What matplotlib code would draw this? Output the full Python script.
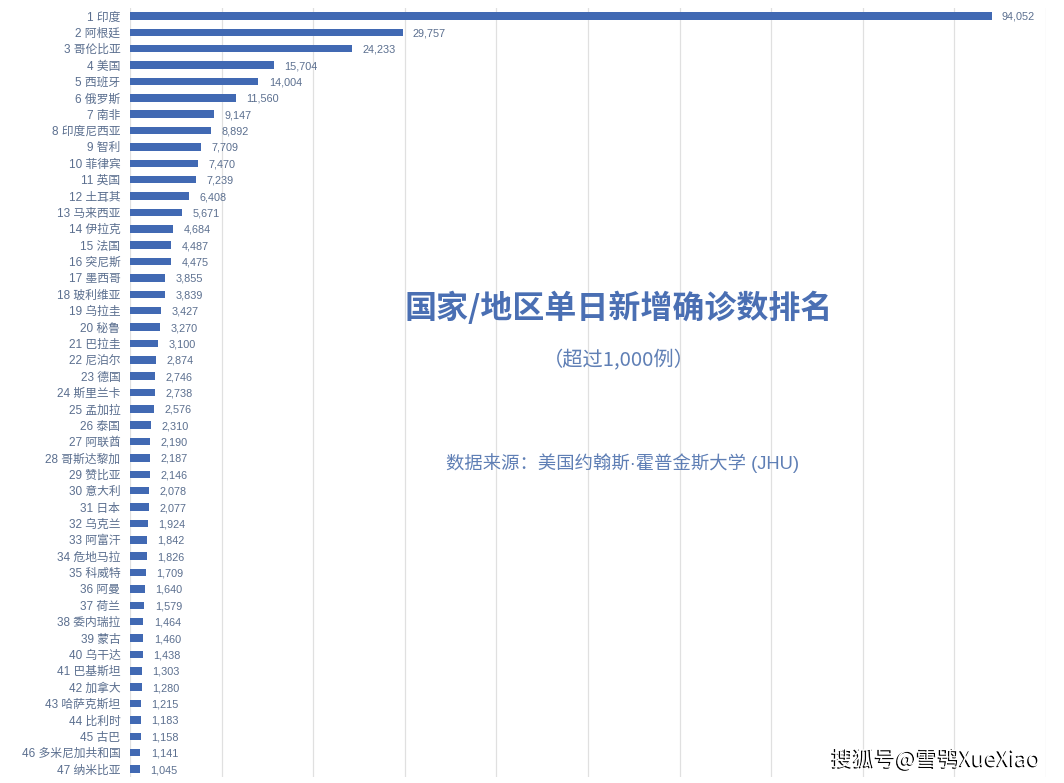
import matplotlib
matplotlib.use("Agg")
import matplotlib.pyplot as plt
import matplotlib.patheffects as pe
from matplotlib.ticker import MultipleLocator

plt.rcParams['font.family'] = ['Noto Sans CJK SC', 'DejaVu Sans']

countries = ["印度","阿根廷","哥伦比亚","美国","西班牙","俄罗斯","南非","印度尼西亚","智利","菲律宾",
             "英国","土耳其","马来西亚","伊拉克","法国","突尼斯","墨西哥","玻利维亚","乌拉圭","秘鲁",
             "巴拉圭","尼泊尔","德国","斯里兰卡","孟加拉","泰国","阿联酋","哥斯达黎加","赞比亚","意大利",
             "日本","乌克兰","阿富汗","危地马拉","科威特","阿曼","荷兰","委内瑞拉","蒙古","乌干达",
             "巴基斯坦","加拿大","哈萨克斯坦","比利时","古巴","多米尼加共和国","纳米比亚"]
values = [94052,29757,24233,15704,14004,11560,9147,8892,7709,7470,
          7239,6408,5671,4684,4487,4475,3855,3839,3427,3270,
          3100,2874,2746,2738,2576,2310,2190,2187,2146,2078,
          2077,1924,1842,1826,1709,1640,1579,1464,1460,1438,
          1303,1280,1215,1183,1158,1141,1045]
ranks = list(range(1, len(countries) + 1))
labels = [f"{r} {c}" for r, c in zip(ranks, countries)]

W, H = 1064, 783
fig = plt.figure(figsize=(W/100, H/100), dpi=100, facecolor="white")
ax = fig.add_axes([130/W, 1-777.2/H, (1046-130)/W, (777.2-7.8)/H])

BLUE = "#4169B3"
TITLE = "#4A6FB3"
LABEL = "#5B6F8F"
ax.barh(ranks, values, height=0.46, color=BLUE, zorder=2)
ax.set_xlim(0, 100000)
ax.set_ylim(len(ranks)+0.5, 0.5)
ax.xaxis.set_major_locator(MultipleLocator(10000))
ax.grid(axis="x", color="#E0E0E0", linewidth=0.9, zorder=0)
ax.set_axisbelow(True)
for s in ax.spines.values():
    s.set_visible(False)
ax.tick_params(axis="x", length=0, labelbottom=False)
ax.tick_params(axis="y", length=0, pad=7, labelsize=8.5, labelcolor=LABEL)
ax.set_yticks(ranks)
ax.set_yticklabels(labels, family=["Liberation Sans", "Noto Sans CJK SC"])

for r, v in zip(ranks, values):
    ax.annotate(f"{v:,}", (v, r), xytext=(7.5, 0), textcoords="offset points",
                va="center_baseline", ha="left", fontsize=7.8, color=LABEL,
                family=["Liberation Sans"])

def px(x, y):
    return x / W, 1 - y / H

fig.text(*px(619, 308), "国家/地区单日新增确诊数排名", ha="center", va="center",
         fontsize=23, fontweight="bold", color=TITLE)
fig.text(*px(619, 361), "（超过1,000例）", ha="center", va="center",
         fontsize=14.6, color="#5F7FB5")
fig.text(*px(623, 463), "数据来源：美国约翰斯·霍普金斯大学 (JHU)", ha="center", va="center",
         fontsize=13.2, color="#5F7FB5", family=["Liberation Sans", "Noto Sans CJK SC"])

fig.text(*px(936, 760), "搜狐号@雪鸮XueXiao", ha="center", va="center",
         fontsize=15.5, color="white", zorder=5,
         path_effects=[pe.withSimplePatchShadow(offset=(-1, -0.8), shadow_rgbFace="black", alpha=1.0)])

fig.savefig("out.png", dpi=100, facecolor="white")
